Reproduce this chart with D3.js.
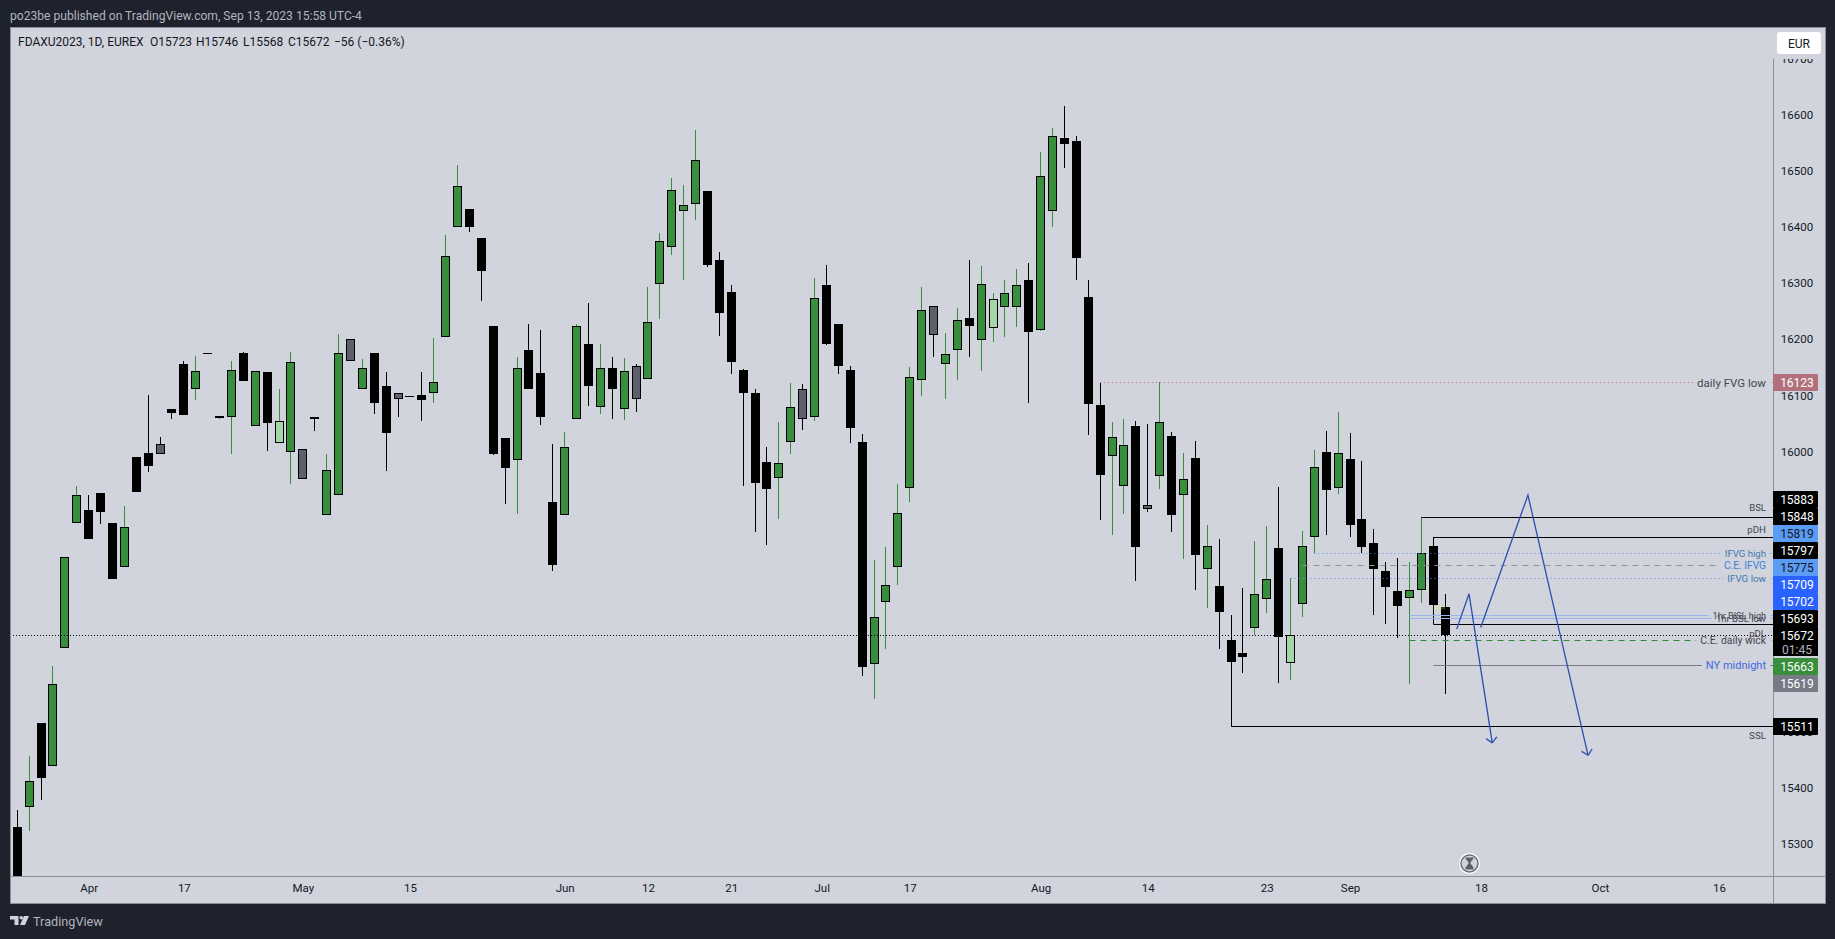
<!DOCTYPE html>
<html>
<head>
<meta charset="utf-8">
<title>FDAXU2023</title>
<script src="https://cdn.jsdelivr.net/npm/d3@7/dist/d3.min.js"></script>
<style>
html, body { margin: 0; padding: 0; background: #1e222d; overflow: hidden; }
svg { display: block; font-family: Roboto, sans-serif; }
</style>
</head>
<body>
<script>
// one letter per day: g green, k black, n grey, l light green
var tones = ('kgkgggkkkg' + 'kknkkgkggk' + 'gklgnkggng' + 'kknkkgggkk' +
	'kkgkkkggkg' + 'kgngggggkk' + 'kkkkggngkk' + 'kkgggggngg' +
	'kglggkggkk' + 'kkggkngkgk' + 'gkkkggklgg' + 'kgkkkkkggk' + 'k').split('');

var opens = [15330,15366,15515,15439,15650,15873,15895,15926,15872,15793,15990,15997,15996,
	16075,16156,16111,16175,16060,16062,16175,16046,16141,16015,15999,16005,16061,15887,
	15923,16200,16112,16175,16117,16105,16098,16100,16105,16204,16401,16432,16380,16224,
	16024,15985,16181,16140,15910,15887,16058,16191,16080,16149,16076,16152,16130,16299,
	16365,16429,16442,16464,16341,16284,16145,16104,15981,15953,16017,16111,16062,16297,
	16227,16145,16017,15621,15732,15793,15935,16128,16259,16156,16181,16238,16199,16220,
	16258,16258,16306,16217,16429,16559,16554,16275,16083,15992,15939,16045,15904,15957,
	16027,15923,15988,15791,15760,15664,15640,15685,15737,15828,15623,15727,15848,15999,
	15935,15986,15879,15837,15787,15751,15739,15752,15831,15723];
var highs = [15360,15457,15515,15617,15811,15938,15922,15926,15872,15903,15990,16100,16025,
	16075,16161,16170,16175,16064,16161,16177,16143,16141,16111,16177,16005,16061,15995,
	16209,16200,16165,16175,16141,16105,16098,16141,16202,16386,16511,16432,16380,16224,
	16024,16168,16227,16216,16013,16034,16227,16265,16191,16168,16166,16156,16293,16389,
	16487,16475,16573,16464,16356,16297,16147,16111,16008,16052,16122,16120,16309,16332,
	16227,16152,16031,15806,15829,15942,16150,16293,16259,16211,16256,16341,16331,16282,
	16306,16325,16336,16534,16577,16616,16562,16306,16122,16052,16058,16054,16049,16124,
	16034,15997,16018,15869,15844,15708,15756,15840,15867,15936,15775,15858,16002,16036,
	16070,16033,15983,15862,15803,15810,15803,15883,15848,15746];
var lows = [15225,15323,15378,15439,15650,15873,15844,15870,15772,15793,15928,15963,15996,
	16058,16065,16092,16175,16058,15995,16125,16046,16001,16015,15942,15951,16037,15887,
	15923,16162,16112,16067,15965,16062,16098,16055,16087,16204,16401,16391,16268,15993,
	15906,15888,16111,16047,15787,15887,16058,16081,16067,16058,16056,16070,16130,16236,
	16350,16306,16413,16329,16206,16138,15938,15856,15833,15879,15995,16038,16054,16190,
	16138,16015,15599,15558,15647,15762,15910,16099,16168,16093,16127,16168,16143,16195,
	16204,16222,16086,16215,16400,16505,16306,16029,15878,15851,15888,15769,15892,15933,
	15856,15808,15753,15721,15647,15511,15605,15672,15712,15587,15592,15705,15818,15851,
	15924,15847,15819,15708,15692,15667,15585,15730,15693,15568];
var closes = [15240,15412,15417,15585,15811,15923,15844,15892,15772,15866,15928,15974,16014,
	16069,16065,16143,16175,16064,16145,16125,16143,16051,16055,16159,15951,16058,15966,
	16175,16162,16148,16086,16033,16094,16098,16092,16123,16348,16473,16400,16322,15995,
	15970,16148,16111,16061,15797,16007,16223,16117,16148,16111,16143,16094,16230,16375,
	16467,16439,16519,16332,16247,16159,16104,15944,15933,15980,16080,16058,16273,16191,
	16152,16042,15615,15704,15761,15891,16132,16253,16208,16173,16235,16224,16298,16271,
	16282,16296,16213,16492,16562,16548,16345,16085,15958,16025,16011,15829,15898,16052,
	15886,15950,15815,15832,15713,15624,15633,15745,15772,15669,15672,15831,15972,15931,
	15998,15869,15829,15790,15758,15724,15752,15818,15726,15672];

var priceTicks = [16700,16600,16500,16400,16300,16200,16100,16000,15900,15800,15700,15600,15500,15400,15300];
var timeTickBars = [6,14,24,33,46,53,60,67.6,75,86,95,105,112,123,133,143];
var timeTickLabels = ['Apr','17','May','15','Jun','12','21','Jul','17','Aug','14','23','Sep','18','Oct','16'];

var lastPrice = 15672;

// drawn levels: price, first bar, name
var levelPrices = [16123,15883,15848,15819,15797,15775,15709,15702,15693,15663,15619,15511];
var levelBars = [91,118,119,109,108,107,117,117,119,117,119,102];
var levelNames = ['daily FVG low','BSL','pDH','IFVG high','C.E. IFVG','IFVG low','1hr BISL high','1hr BSL low','pDL','C.E. daily wick','NY midnight','SSL'];

// hand drawn arrows, [bar, price]
var arrowOne = [[120.96,15683],[122,15746],[123.95,15480]];
var arrowTwo = [[122.98,15686],[126.95,15922],[132,15458]];

var candleColors = { g: '#388e3c', k: '#000000', n: '#5d606b', l: '#a5d6a7' };
var wickColors = { g: '#388e3c', k: '#000000', n: '#000000', l: '#388e3c' };

var levelStyle = {
	'daily FVG low': { size: 11.5, stroke: '#c2627a', dash: '1 3', text: '#434651', pill: '#b2707c', ink: '#fff' },
	'BSL': { size: 9.6, stroke: '#000', text: '#434651', pill: '#000', ink: '#fff', under: -10 },
	'pDH': { size: 9.7, stroke: '#000', text: '#434651', pill: '#000', ink: '#fff', under: -8 },
	'IFVG high': { size: 9.6, stroke: '#5b8de8', dash: '1 3', text: '#3f79ad', pill: '#5b9cf6', ink: '#131722' },
	'C.E. IFVG': { size: 10.2, stroke: '#8f929c', dash: '6 5', text: '#3f7fd8', pill: '#000', ink: '#fff' },
	'IFVG low': { size: 9.8, stroke: '#5b8de8', dash: '1 3', text: '#3f79ad', pill: '#5b9cf6', ink: '#131722' },
	'1hr BISL high': { size: 9.1, stroke: '#9db4ec', text: '#434651', pill: '#2962ff', ink: '#fff' },
	'1hr BSL low': { size: 9.5, stroke: '#9db4ec', text: '#434651', pill: '#2962ff', ink: '#fff' },
	'pDL': { size: 9.6, stroke: '#000', text: '#434651', pill: '#000', ink: '#fff', under: 9 },
	'C.E. daily wick': { size: 10.4, stroke: '#2e8b35', dash: '6 5', text: '#434651', pill: '#388e3c', ink: '#fff' },
	'NY midnight': { size: 11, stroke: '#787b86', text: '#4169e1', pill: '#787b86', ink: '#fff' },
	'SSL': { size: 9.8, stroke: '#000', text: '#434651', pill: '#000', ink: '#fff', under: 9 }
};

var width = 1835, height = 939;
var paneLeft = 10, paneTop = 27, axisX = 1773, paneBottom = 876, frameRight = 1825, frameBottom = 903;
var bg = '#d1d4dc', dark = '#1e222d', frameCol = '#8a8e99', textCol = '#131722';

var x = d3.scaleLinear().domain([0, 120]).range([17.25, 1445.25]);
var y = d3.scaleLinear().domain([15672, 16600]).range([635.3, 115]);

var svg = d3.select('body').append('svg').attr('width', width).attr('height', height);

svg.append('rect').attr('width', width).attr('height', height).attr('fill', dark);
svg.append('rect')
	.attr('x', paneLeft + 0.5).attr('y', paneTop + 0.5)
	.attr('width', frameRight - paneLeft).attr('height', frameBottom - paneTop)
	.attr('fill', bg).attr('stroke', frameCol);

svg.append('text').attr('x', 10).attr('y', 19.5)
	.attr('fill', '#b2b5be').style('font-size', '12.1px')
	.text('po23be published on TradingView.com, Sep 13, 2023 15:58 UTC-4');

svg.append('defs').append('clipPath').attr('id', 'pane').append('rect')
	.attr('x', paneLeft + 1).attr('y', paneTop + 1)
	.attr('width', axisX - paneLeft - 1).attr('height', paneBottom - paneTop - 1);

var plot = svg.append('g').attr('clip-path', 'url(#pane)');

var bars = d3.range(opens.length).map(function (i) {
	return {
		i: i, tone: tones[i], o: opens[i], h: highs[i], l: lows[i], c: closes[i],
		px: Math.floor(x(i)),
		top: Math.round(y(Math.max(opens[i], closes[i]))),
		bottom: Math.round(y(Math.min(opens[i], closes[i])))
	};
});

plot.selectAll('.wick').data(bars).enter().append('rect')
	.attr('class', 'wick')
	.attr('x', function (d) { return d.px; })
	.attr('width', 1)
	.attr('y', function (d) { return Math.round(y(d.h)); })
	.attr('height', function (d) { return Math.round(y(d.l)) - Math.round(y(d.h)); })
	.attr('fill', function (d) { return wickColors[d.tone]; })
	.attr('shape-rendering', 'crispEdges');

plot.selectAll('.edge').data(bars).enter().append('rect')
	.attr('class', 'edge')
	.attr('x', function (d) { return d.px - 4; })
	.attr('width', 9)
	.attr('y', function (d) { return d.top; })
	.attr('height', function (d) { return Math.max(1, d.bottom - d.top); })
	.attr('fill', '#000')
	.attr('shape-rendering', 'crispEdges');

plot.selectAll('.body').data(bars.filter(function (d) { return d.tone !== 'k'; })).enter().append('rect')
	.attr('class', 'body')
	.attr('x', function (d) { return d.px - 3; })
	.attr('width', 7)
	.attr('y', function (d) { return d.top + 1; })
	.attr('height', function (d) { return Math.max(0, d.bottom - d.top - 2); })
	.attr('fill', function (d) { return candleColors[d.tone]; })
	.attr('shape-rendering', 'crispEdges');

// small yellow box near the last candle
plot.append('rect')
	.attr('x', x(119)).attr('width', x(120) - x(119))
	.attr('y', y(15725)).attr('height', y(15718) - y(15725))
	.attr('fill', 'rgba(255,235,120,0.22)');

// level lines
var levels = levelPrices.map(function (p, i) {
	return { price: p, bar: levelBars[i], name: levelNames[i], st: levelStyle[levelNames[i]], py: Math.round(y(p)) + 0.5 };
});

plot.selectAll('.level').data(levels).enter().append('line')
	.attr('class', 'level')
	.attr('x1', function (d) { return x(d.bar); })
	.attr('x2', axisX)
	.attr('y1', function (d) { return d.py; })
	.attr('y2', function (d) { return d.py; })
	.attr('stroke', function (d) { return d.st.stroke; })
	.attr('stroke-dasharray', function (d) { return d.st.dash || null; });

plot.append('line')
	.attr('x1', paneLeft).attr('x2', axisX)
	.attr('y1', Math.round(y(lastPrice)) + 0.5).attr('y2', Math.round(y(lastPrice)) + 0.5)
	.attr('stroke', '#000').attr('stroke-dasharray', '1 2');

// arrows
var arrowLine = d3.line()
	.x(function (d) { return x(d[0]); })
	.y(function (d) { return y(d[1]); });

[arrowOne, arrowTwo].forEach(function (pts) {
	plot.append('path').attr('d', arrowLine(pts))
		.attr('fill', 'none').attr('stroke', '#2a4fb0').attr('stroke-width', 1.3);
	var tip = pts[pts.length - 1], prev = pts[pts.length - 2];
	var tx = x(tip[0]), ty = y(tip[1]);
	var ang = Math.atan2(y(prev[1]) - ty, x(prev[0]) - tx);
	[-0.8, 0.8].forEach(function (off) {
		plot.append('line')
			.attr('x1', tx).attr('y1', ty)
			.attr('x2', tx + 7.5 * Math.cos(ang + off)).attr('y2', ty + 7.5 * Math.sin(ang + off))
			.attr('stroke', '#2a4fb0').attr('stroke-width', 1.3);
	});
});

// level names, paper behind them first so overlapping names both stay visible
var nameG = svg.append('g');
var names = nameG.selectAll('text').data(levels).enter().append('text')
	.attr('x', 1766)
	.attr('y', function (d) { return d.py + (d.st.under || 0); })
	.attr('dy', '0.35em')
	.attr('text-anchor', 'end')
	.attr('fill', function (d) { return d.st.text; })
	.style('font-size', function (d) { return d.st.size + 'px'; })
	.text(function (d) { return d.name; });

names.each(function (d) {
	if (d.st.under) return;
	var b = this.getBBox();
	nameG.insert('rect', 'text')
		.attr('x', b.x - 4).attr('y', d.py - 2)
		.attr('width', b.width + 8).attr('height', 4)
		.attr('fill', bg);
});

// axis column
svg.append('line').attr('x1', axisX + 0.5).attr('x2', axisX + 0.5)
	.attr('y1', 59).attr('y2', frameBottom).attr('stroke', frameCol);
svg.append('line').attr('x1', paneLeft).attr('x2', frameRight)
	.attr('y1', paneBottom + 0.5).attr('y2', paneBottom + 0.5).attr('stroke', frameCol);

var yAxis = d3.axisRight(y).tickValues(priceTicks).tickSize(0).tickPadding(0).tickFormat(d3.format('d'));
var yG = svg.append('g').attr('transform', 'translate(1797,0)').call(yAxis);
yG.select('.domain').remove();
yG.selectAll('text').attr('text-anchor', 'middle').attr('fill', textCol).style('font-family', 'Roboto, sans-serif').style('font-size', '11.5px');

var xAxis = d3.axisBottom(x).tickValues(timeTickBars).tickSize(0).tickPadding(0)
	.tickFormat(function (d, i) { return timeTickLabels[i]; });
var xG = svg.append('g').attr('transform', 'translate(0,884)').call(xAxis);
xG.select('.domain').remove();
xG.selectAll('text').attr('fill', textCol).style('font-family', 'Roboto, sans-serif').style('font-size', '11.5px');

// cover the clipped top tick and add the currency button
svg.append('rect').attr('x', axisX + 1).attr('y', 28).attr('width', frameRight - axisX - 1).attr('height', 31).attr('fill', bg);
svg.append('rect').attr('x', 1777).attr('y', 32).attr('width', 44).attr('height', 22).attr('rx', 3)
	.attr('fill', '#fff');
svg.append('text').attr('x', 1799).attr('y', 43.5).attr('dy', '0.35em').attr('text-anchor', 'middle')
	.attr('fill', textCol).style('font-size', '12px').text('EUR');

// price pills: stacked away from the last price when they would collide
var pills = levels.slice().sort(function (a, b) { return b.price - a.price; });
var lastY = Math.round(y(lastPrice)) + 0.5;
var above = pills.filter(function (d) { return d.price > lastPrice && lastY - d.py < 180; }).reverse();
var below = pills.filter(function (d) { return d.price < lastPrice && d.py - lastY < 60; });
var step = 17, cy = lastY;
pills.forEach(function (d) { d.cy = d.py; });
above.forEach(function (d) { cy = cy - step; d.cy = cy; });
cy = lastY + 14;
below.forEach(function (d) { cy = cy + step; d.cy = cy; });

var pillG = svg.append('g').style('font-size', '12px');
pillG.selectAll('rect').data(pills).enter().append('rect')
	.attr('x', axisX).attr('width', 45).attr('height', 17).attr('rx', 1)
	.attr('y', function (d) { return d.cy - 8.5; })
	.attr('fill', function (d) { return d.st.pill; });
pillG.selectAll('text').data(pills).enter().append('text')
	.attr('x', 1797).attr('y', function (d) { return d.cy; }).attr('dy', '0.35em')
	.attr('text-anchor', 'middle')
	.attr('fill', function (d) { return d.st.ink; })
	.text(function (d) { return d.price; });

pillG.append('rect').attr('x', axisX).attr('y', lastY - 8.5).attr('width', 45).attr('height', 29).attr('fill', '#000');
pillG.append('text').attr('x', 1797).attr('y', lastY).attr('dy', '0.35em').attr('text-anchor', 'middle')
	.attr('fill', '#fff').text(lastPrice);
pillG.append('text').attr('x', 1797).attr('y', lastY + 14).attr('dy', '0.35em').attr('text-anchor', 'middle')
	.attr('fill', '#b2b5be').text('01:45');

// legend
var legendParts = [['FDAXU2023, 1D, EUREX', 18], ['O15723', 150], ['H15746', 196], ['L15568', 243], ['C15672', 288], ['\u221256 (\u22120.36%)', 334]];
svg.append('g').selectAll('text').data(legendParts).enter().append('text')
	.attr('x', function (d) { return d[1]; }).attr('y', 45.5)
	.attr('fill', textCol).style('font-size', '12px')
	.text(function (d) { return d[0]; });

// hourglass
var glass = svg.append('g').attr('transform', 'translate(1469.5,863.5)');
glass.append('circle').attr('r', 10.5).attr('fill', '#fff');
glass.append('circle').attr('r', 8.5).attr('fill', '#d1d4dc').attr('stroke', '#6a6d78').attr('stroke-width', 1.5);
glass.append('path').attr('d', 'M-4,-6H4V-5L1,-1V0L4,4V6H-4V4L-1,0V-1L-4,-5Z').attr('fill', '#5d606b');

// footer logo
var logo = svg.append('g').attr('transform', 'translate(10,916)').attr('fill', '#d1d4dc');
logo.append('path').attr('d', 'M0,0H8.5V9H4.5V3.5H0Z');
logo.append('circle').attr('cx', 11.3).attr('cy', 1.8).attr('r', 1.8);
logo.append('path').attr('d', 'M14,0H19L15,9H10Z');
svg.append('text').attr('x', 33).attr('y', 926).attr('fill', '#b2b5be').style('font-size', '12.7px').text('TradingView');
</script>
</body>
</html>
